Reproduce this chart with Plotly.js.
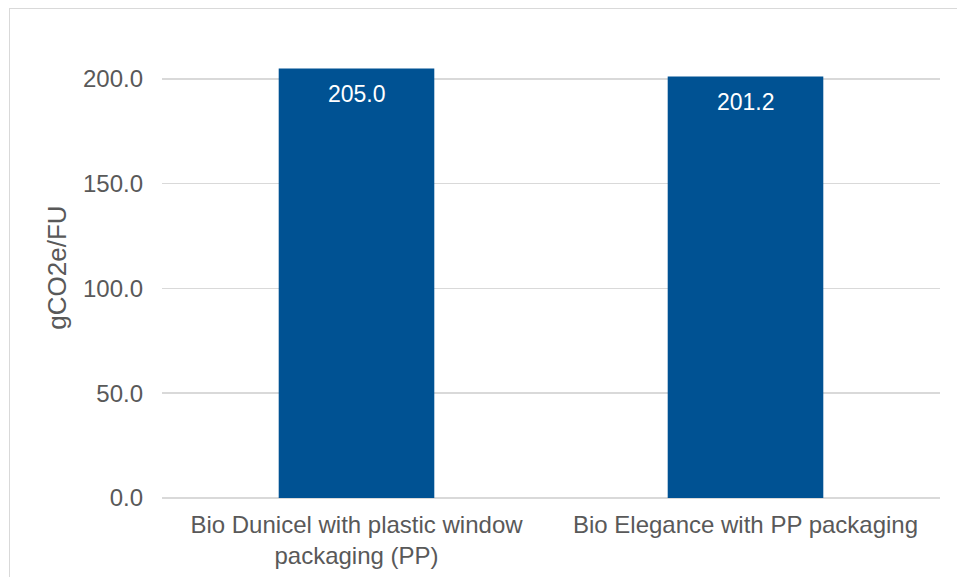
<!DOCTYPE html>
<html>
<head>
<meta charset="utf-8">
<script src="https://cdn.plot.ly/plotly-3.0.1.min.js"></script>
<style>
  html, body { margin: 0; padding: 0; background: #ffffff; overflow: hidden; }
  #frame { position: absolute; left: 8.5px; top: 7.5px; width: 2000px; height: 2000px; border: 1px solid #d9d9d9; box-sizing: border-box; }
  #chart { position: absolute; left: 0; top: 0; width: 957px; height: 577px; }
</style>
</head>
<body>
<div id="frame"></div>
<div id="chart"></div>
<script>
const categories = ['Bio Dunicel with plastic window packaging (PP)', 'Bio Elegance with PP packaging'];
const tickLabels = ['Bio Dunicel with plastic window<br>packaging (PP)', 'Bio Elegance with PP packaging'];
const values = [205.0, 201.2];
const valueLabels = ['205.0', '201.2'];
const yTicks = [0, 50, 100, 150, 200];
const yTickLabels = ['0.0', '50.0', '100.0', '150.0', '200.0'];

const FONT = 'Liberation Sans, Arial, sans-serif';
const GREY = '#595959';

const trace = {
  type: 'bar',
  x: categories,
  y: values,
  marker: { color: '#005293' },
  hoverinfo: 'skip'
};

const annotations = categories.map((c, i) => ({
  x: c, y: values[i], xref: 'x', yref: 'y',
  text: valueLabels[i], showarrow: false,
  yanchor: 'top', yshift: -11,
  font: { family: FONT, size: 23, color: '#ffffff' }
}));

const layout = {
  width: 957, height: 577,
  margin: { l: 162, r: 17, t: 37, b: 79, pad: 0 },
  paper_bgcolor: 'rgba(0,0,0,0)',
  plot_bgcolor: 'rgba(0,0,0,0)',
  bargap: 0.6,
  showlegend: false,
  font: { family: FONT, size: 24, color: GREY },
  xaxis: {
    type: 'category',
    tickmode: 'array', tickvals: categories, ticktext: tickLabels,
    ticks: '', showline: false, showgrid: false, zeroline: false,
    tickfont: { family: FONT, size: 24, color: GREY },
    ticklabelstandoff: 10,
    automargin: false
  },
  yaxis: {
    range: [0, 220],
    tickmode: 'array', tickvals: yTicks, ticktext: yTickLabels,
    ticks: '', showline: false,
    showgrid: true, gridcolor: '#d9d9d9', gridwidth: 1.5,
    zeroline: true, zerolinecolor: '#d9d9d9', zerolinewidth: 1.5,
    tickfont: { family: FONT, size: 24, color: GREY },
    ticklabelstandoff: 18,
    title: { text: 'gCO2e/FU', font: { family: FONT, size: 26, color: GREY }, standoff: 8 },
    automargin: false
  },
  annotations: annotations
};

Plotly.newPlot('chart', [trace], layout, { staticPlot: true, displayModeBar: false });
</script>
</body>
</html>
